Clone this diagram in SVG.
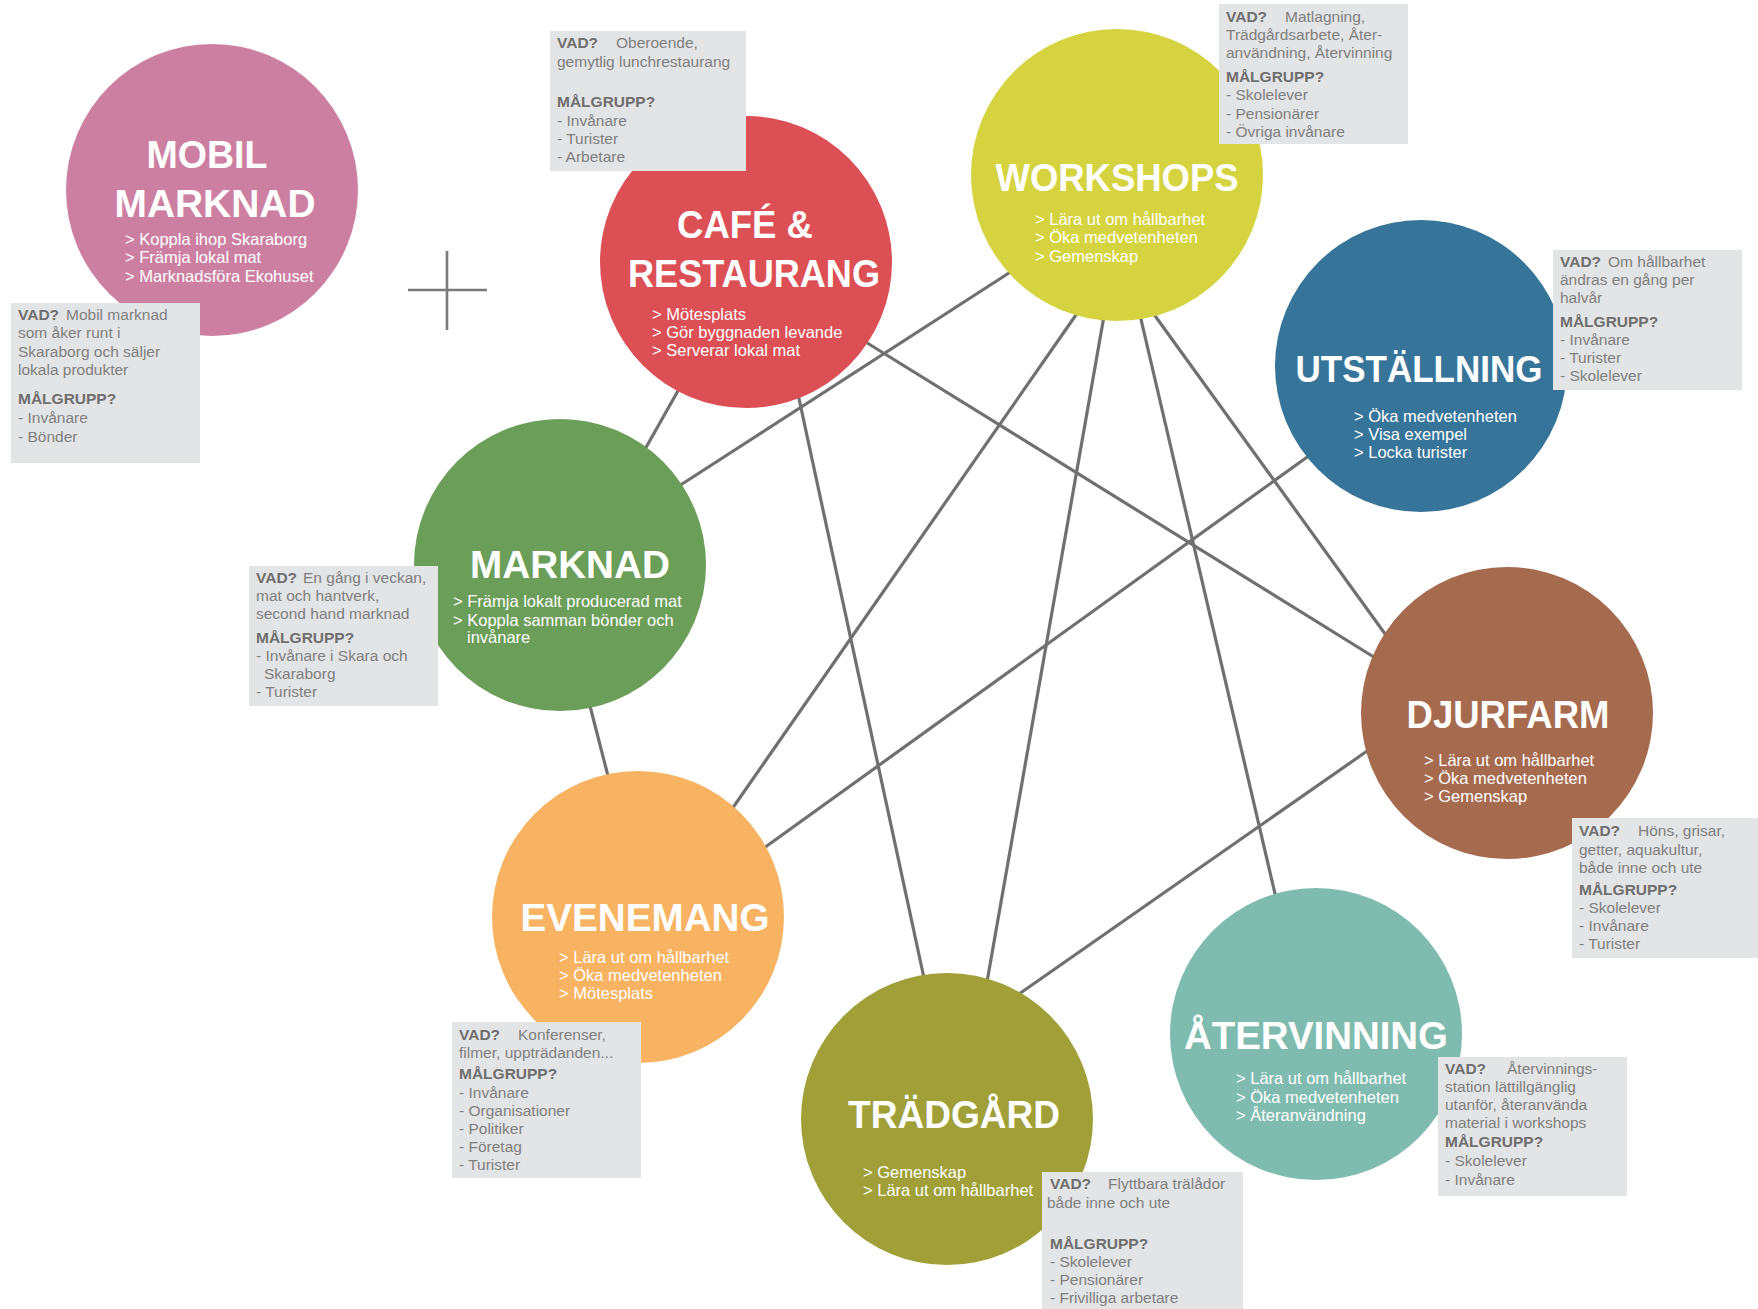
<svg xmlns="http://www.w3.org/2000/svg" width="1758" height="1309" viewBox="0 0 1758 1309">
<style>
.title{font-family:"Liberation Sans",Arial,sans-serif;font-weight:bold;font-size:39px;fill:#ffffff;text-anchor:middle}
.bul{font-family:"Liberation Sans",Arial,sans-serif;font-size:16.5px;fill:#ffffff}
.box{fill:#e3e4e6}
.bt{font-family:"Liberation Sans",Arial,sans-serif;font-size:15.5px;fill:#7f7f7f}
.bl{font-weight:bold;fill:#6e6e6e}
.conn line{stroke:#707070;stroke-width:3.2;stroke-linecap:butt}
</style>
<rect width="1758" height="1309" fill="#ffffff"/>
<g id="connectors" class="conn">
<line x1="679" y1="389" x2="644" y2="451"/>
<line x1="1012" y1="271" x2="679" y2="486"/>
<line x1="864" y1="341" x2="1377" y2="659"/>
<line x1="798" y1="394" x2="924" y2="978"/>
<line x1="1078" y1="312" x2="732" y2="809"/>
<line x1="1104" y1="316" x2="987" y2="982"/>
<line x1="1140" y1="315" x2="1276" y2="898"/>
<line x1="1153" y1="313" x2="1388" y2="638"/>
<line x1="1310" y1="455" x2="764" y2="848"/>
<line x1="590" y1="706" x2="608" y2="776"/>
<line x1="1370" y1="749" x2="1019" y2="994"/>
</g>
<g id="plus">
<line x1="408" y1="290" x2="487" y2="290" stroke="#7a7a7a" stroke-width="2.6"/>
<line x1="447" y1="251" x2="447" y2="330" stroke="#7a7a7a" stroke-width="2.6"/>
</g>
<g id="mobil-marknad">
<circle cx="212" cy="190" r="146" fill="#cd7fa2"/>
<text class="title" x="207" y="168" textLength="121" lengthAdjust="spacingAndGlyphs">MOBIL</text>
<text class="title" x="215" y="217" textLength="201" lengthAdjust="spacingAndGlyphs">MARKNAD</text>
<text class="bul" x="125" y="245">&gt; Koppla ihop Skaraborg</text>
<text class="bul" x="125" y="263">&gt; Främja lokal mat</text>
<text class="bul" x="125" y="282">&gt; Marknadsföra Ekohuset</text>
<rect class="box" x="11" y="303" width="189" height="160"/>
<text class="bt" x="18" y="320"><tspan class="bl">VAD?</tspan><tspan x="66">Mobil marknad</tspan></text>
<text class="bt" x="18" y="338">som åker runt i</text>
<text class="bt" x="18" y="357">Skaraborg och säljer</text>
<text class="bt" x="18" y="375">lokala produkter</text>
<text class="bt bl" x="18" y="404">MÅLGRUPP?</text>
<text class="bt" x="18" y="423">- Invånare</text>
<text class="bt" x="18" y="442">- Bönder</text>
</g>
<g id="cafe-restaurang">
<circle cx="746" cy="262" r="146" fill="#dc4f55"/>
<text class="title" x="745" y="238" textLength="136" lengthAdjust="spacingAndGlyphs">CAFÉ &amp;</text>
<text class="title" x="754" y="287" textLength="252" lengthAdjust="spacingAndGlyphs">RESTAURANG</text>
<text class="bul" x="652" y="320">&gt; Mötesplats</text>
<text class="bul" x="652" y="338">&gt; Gör byggnaden levande</text>
<text class="bul" x="652" y="356">&gt; Serverar lokal mat</text>
<rect class="box" x="550" y="31" width="196" height="140"/>
<text class="bt" x="557" y="48"><tspan class="bl">VAD?</tspan><tspan x="616">Oberoende,</tspan></text>
<text class="bt" x="557" y="67">gemytlig lunchrestaurang</text>
<text class="bt bl" x="557" y="107">MÅLGRUPP?</text>
<text class="bt" x="557" y="126">- Invånare</text>
<text class="bt" x="557" y="144">- Turister</text>
<text class="bt" x="557" y="162">- Arbetare</text>
</g>
<g id="workshops">
<circle cx="1117" cy="175" r="146" fill="#d6d340"/>
<text class="title" x="1117" y="191" textLength="243" lengthAdjust="spacingAndGlyphs">WORKSHOPS</text>
<text class="bul" x="1035" y="225">&gt; Lära ut om hållbarhet</text>
<text class="bul" x="1035" y="243">&gt; Öka medvetenheten</text>
<text class="bul" x="1035" y="262">&gt; Gemenskap</text>
<rect class="box" x="1219" y="4" width="189" height="140"/>
<text class="bt" x="1226" y="22"><tspan class="bl">VAD?</tspan><tspan x="1285">Matlagning,</tspan></text>
<text class="bt" x="1226" y="40">Trädgårdsarbete, Åter-</text>
<text class="bt" x="1226" y="58">användning, Återvinning</text>
<text class="bt bl" x="1226" y="82">MÅLGRUPP?</text>
<text class="bt" x="1226" y="100">- Skolelever</text>
<text class="bt" x="1226" y="119">- Pensionärer</text>
<text class="bt" x="1226" y="137">- Övriga invånare</text>
</g>
<g id="utstallning">
<circle cx="1421" cy="366" r="146" fill="#377499"/>
<text class="title" x="1419" y="382" font-size="37" style="font-size:37px" textLength="247" lengthAdjust="spacingAndGlyphs">UTSTÄLLNING</text>
<text class="bul" x="1354" y="422">&gt; Öka medvetenheten</text>
<text class="bul" x="1354" y="440">&gt; Visa exempel</text>
<text class="bul" x="1354" y="458">&gt; Locka turister</text>
<rect class="box" x="1553" y="250" width="189" height="140"/>
<text class="bt" x="1560" y="267"><tspan class="bl">VAD?</tspan><tspan x="1608">Om hållbarhet</tspan></text>
<text class="bt" x="1560" y="285">ändras en gång per</text>
<text class="bt" x="1560" y="303">halvår</text>
<text class="bt bl" x="1560" y="327">MÅLGRUPP?</text>
<text class="bt" x="1560" y="345">- Invånare</text>
<text class="bt" x="1560" y="363">- Turister</text>
<text class="bt" x="1560" y="381">- Skolelever</text>
</g>
<g id="marknad">
<circle cx="560" cy="565" r="146" fill="#6a9e59"/>
<text class="title" x="570" y="578" textLength="200" lengthAdjust="spacingAndGlyphs">MARKNAD</text>
<text class="bul" x="453" y="607">&gt; Främja lokalt producerad mat</text>
<text class="bul" x="453" y="626">&gt; Koppla samman bönder och</text>
<text class="bul" x="467" y="643">invånare</text>
<rect class="box" x="249" y="566" width="189" height="140"/>
<text class="bt" x="256" y="583"><tspan class="bl">VAD?</tspan><tspan x="303">En gång i veckan,</tspan></text>
<text class="bt" x="256" y="601">mat och hantverk,</text>
<text class="bt" x="256" y="619">second hand marknad</text>
<text class="bt bl" x="256" y="643">MÅLGRUPP?</text>
<text class="bt" x="256" y="661">- Invånare i Skara och</text>
<text class="bt" x="264" y="679">Skaraborg</text>
<text class="bt" x="256" y="697">- Turister</text>
</g>
<g id="djurfarm">
<circle cx="1507" cy="713" r="146" fill="#a66a4f"/>
<text class="title" x="1508" y="728" textLength="203" lengthAdjust="spacingAndGlyphs">DJURFARM</text>
<text class="bul" x="1424" y="766">&gt; Lära ut om hållbarhet</text>
<text class="bul" x="1424" y="784">&gt; Öka medvetenheten</text>
<text class="bul" x="1424" y="802">&gt; Gemenskap</text>
<rect class="box" x="1572" y="818" width="186" height="140"/>
<text class="bt" x="1579" y="836"><tspan class="bl">VAD?</tspan><tspan x="1638">Höns, grisar,</tspan></text>
<text class="bt" x="1579" y="855">getter, aquakultur,</text>
<text class="bt" x="1579" y="873">både inne och ute</text>
<text class="bt bl" x="1579" y="895">MÅLGRUPP?</text>
<text class="bt" x="1579" y="913">- Skolelever</text>
<text class="bt" x="1579" y="931">- Invånare</text>
<text class="bt" x="1579" y="949">- Turister</text>
</g>
<g id="evenemang">
<circle cx="638" cy="917" r="146" fill="#f7b362"/>
<text class="title" x="645" y="931" textLength="249" lengthAdjust="spacingAndGlyphs">EVENEMANG</text>
<text class="bul" x="559" y="963">&gt; Lära ut om hållbarhet</text>
<text class="bul" x="559" y="981">&gt; Öka medvetenheten</text>
<text class="bul" x="559" y="999">&gt; Mötesplats</text>
<rect class="box" x="452" y="1022" width="189" height="156"/>
<text class="bt" x="459" y="1040"><tspan class="bl">VAD?</tspan><tspan x="518">Konferenser,</tspan></text>
<text class="bt" x="459" y="1058">filmer, uppträdanden...</text>
<text class="bt bl" x="459" y="1079">MÅLGRUPP?</text>
<text class="bt" x="459" y="1098">- Invånare</text>
<text class="bt" x="459" y="1116">- Organisationer</text>
<text class="bt" x="459" y="1134">- Politiker</text>
<text class="bt" x="459" y="1152">- Företag</text>
<text class="bt" x="459" y="1170">- Turister</text>
</g>
<g id="tradgard">
<circle cx="947" cy="1119" r="146" fill="#a09f38"/>
<text class="title" x="954" y="1128" textLength="212" lengthAdjust="spacingAndGlyphs">TRÄDGÅRD</text>
<text class="bul" x="863" y="1178">&gt; Gemenskap</text>
<text class="bul" x="863" y="1196">&gt; Lära ut om hållbarhet</text>
<rect class="box" x="1042" y="1172" width="201" height="137"/>
<text class="bt" x="1050" y="1189"><tspan class="bl">VAD?</tspan><tspan x="1108">Flyttbara trälådor</tspan></text>
<text class="bt" x="1047" y="1208">både inne och ute</text>
<text class="bt bl" x="1050" y="1249">MÅLGRUPP?</text>
<text class="bt" x="1050" y="1267">- Skolelever</text>
<text class="bt" x="1050" y="1285">- Pensionärer</text>
<text class="bt" x="1050" y="1303">- Frivilliga arbetare</text>
</g>
<g id="atervinning">
<circle cx="1316" cy="1034" r="146" fill="#80bbb0"/>
<text class="title" x="1316" y="1049" textLength="264" lengthAdjust="spacingAndGlyphs">ÅTERVINNING</text>
<text class="bul" x="1236" y="1084">&gt; Lära ut om hållbarhet</text>
<text class="bul" x="1236" y="1103">&gt; Öka medvetenheten</text>
<text class="bul" x="1236" y="1121">&gt; Återanvändning</text>
<rect class="box" x="1438" y="1057" width="189" height="139"/>
<text class="bt" x="1445" y="1074"><tspan class="bl">VAD?</tspan><tspan x="1507">Återvinnings-</tspan></text>
<text class="bt" x="1445" y="1092">station lättillgänglig</text>
<text class="bt" x="1445" y="1110">utanför, återanvända</text>
<text class="bt" x="1445" y="1128">material i workshops</text>
<text class="bt bl" x="1445" y="1147">MÅLGRUPP?</text>
<text class="bt" x="1445" y="1166">- Skolelever</text>
<text class="bt" x="1445" y="1185">- Invånare</text>
</g>
</svg>
